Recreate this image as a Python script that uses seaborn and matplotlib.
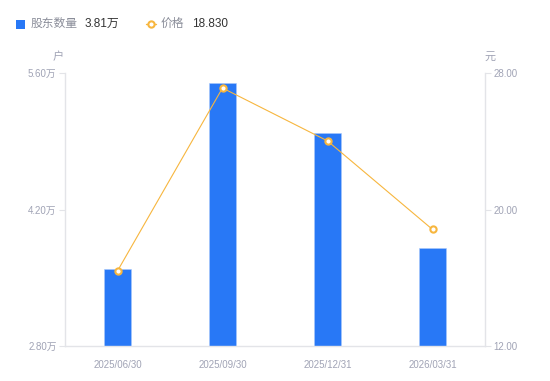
import matplotlib
matplotlib.use("Agg")
import matplotlib.pyplot as plt
import seaborn as sns
import pandas as pd
from matplotlib.lines import Line2D
from matplotlib.patches import Rectangle

dates = ["2025/06/30", "2025/09/30", "2025/12/31", "2026/03/31"]
holders = [3.59, 5.50, 4.98, 3.81]   # 万户
price = [16.40, 27.12, 24.02, 18.83]  # 元
left_ticks = [2.80, 4.20, 5.60]
right_ticks = [12.00, 20.00, 28.00]

sns.set_theme(style="white")
plt.rcParams['font.family'] = ['Liberation Sans', 'Noto Sans CJK SC', 'DejaVu Sans']

BLUE = "#2878f6"
ORANGE = "#f7b63e"
GRID = "#e3e4e8"
TICK = "#a0a3b5"

df = pd.DataFrame({"date": dates, "holders": holders, "price": price})

fig = plt.figure(figsize=(5.5, 3.81), dpi=100)
ax = fig.add_axes([65/550, 1-346/381, 420/550, 273/381])
sns.barplot(data=df, x="date", y="holders", ax=ax, color=BLUE, width=0.25,
            saturation=1, edgecolor="#a9c8fb", linewidth=0.4)
ax.set_ylim(2.80, 5.60)
ax.set_xlim(-0.5, 3.5)
ax.set_yticks(left_ticks)
ax.set_yticklabels([f"{v:.2f}万" for v in left_ticks])
ax.set_xlabel("")
ax.set_ylabel("")

ax2 = ax.twinx()
sns.lineplot(x=list(range(len(dates))), y=price, ax=ax2, color=ORANGE, linewidth=0.8,
             marker="o", markersize=4.5, markerfacecolor="white",
             markeredgecolor=ORANGE, markeredgewidth=1.5)
ax2.set_ylim(12.0, 28.0)
ax2.set_yticks(right_ticks)
ax2.set_yticklabels([f"{v:.2f}" for v in right_ticks])
ax2.set_ylabel("")
ax.set_xlim(-0.5, 3.5)

for a in (ax, ax2):
    for s in a.spines.values():
        s.set_visible(False)
ax.spines["left"].set_visible(True)
ax.spines["bottom"].set_visible(True)
ax2.spines["right"].set_visible(True)
for s in (ax.spines["left"], ax.spines["bottom"], ax2.spines["right"]):
    s.set_color(GRID)
    s.set_linewidth(1)

ax.tick_params(axis="y", left=True, length=4, width=0.8, color=GRID, labelcolor=TICK,
               labelsize=7, pad=2)
ax.tick_params(axis="x", bottom=False, labelcolor=TICK, labelsize=7, pad=4)
ax2.tick_params(axis="y", right=True, length=4, width=0.8, color=GRID, labelcolor=TICK,
                labelsize=7, pad=2)
ax.grid(False)
ax2.grid(False)

fig.text(58/550, 1-57/381, "户", color=TICK, fontsize=8, ha="center", va="center")
fig.text(490/550, 1-57/381, "元", color=TICK, fontsize=8, ha="center", va="center")

# legend
fig.patches.append(Rectangle((16/550, 1-29/381), 9/550, 9/381, transform=fig.transFigure,
                             facecolor=BLUE, edgecolor="none"))
fig.text(31/550, 1-24/381, "股东数量", color="#8a8d99", fontsize=8.5, va="center")
fig.text(85/550, 1-24/381, "3.81万", color="#333333", fontsize=8.5, va="center")
fig.lines.append(Line2D([146/550, 156/550], [1-24/381, 1-24/381], transform=fig.transFigure,
                        color=ORANGE, linewidth=1))
fig.lines.append(Line2D([151/550], [1-24/381], transform=fig.transFigure, marker="o",
                        markersize=4.5, markerfacecolor="white", markeredgecolor=ORANGE,
                        markeredgewidth=1.5))
fig.text(161/550, 1-24/381, "价格", color="#8a8d99", fontsize=8.5, va="center")
fig.text(192/550, 1-24/381, "18.830", color="#333333", fontsize=8.5, va="center")

fig.savefig("out.png", dpi=100)
